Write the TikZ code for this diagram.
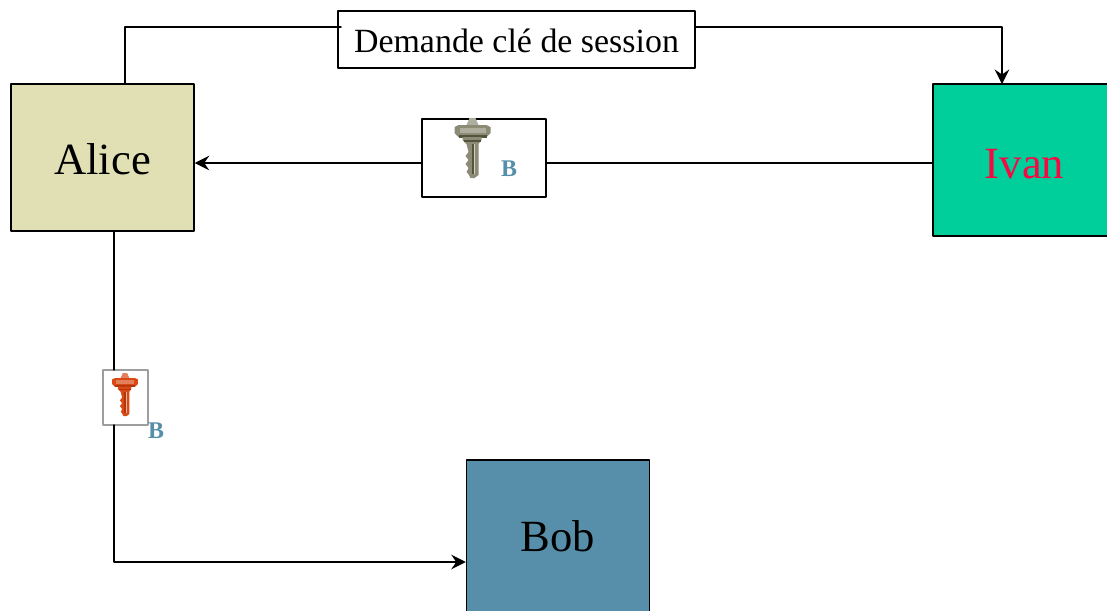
\documentclass[tikz,border=0pt]{standalone}
\usepackage{fontspec}
\setmainfont{Liberation Serif}
\usetikzlibrary{arrows.meta}
\definecolor{aliceFill}{RGB}{224,224,180}
\definecolor{ivanFill}{RGB}{0,207,155}
\definecolor{bobFill}{RGB}{87,143,170}
\definecolor{ivanText}{RGB}{248,8,66}
\definecolor{keyGrey}{RGB}{140,140,118}
\definecolor{keyDark}{RGB}{84,84,60}
\definecolor{keyOrange}{RGB}{218,72,20}
\definecolor{keyRust}{RGB}{176,52,12}
\tikzset{
	person/.style={draw=black, line width=.85pt, inner sep=0pt, text height=19.6pt, text depth=0pt, font=\fontsize{25.4}{28}\selectfont},
	msgbox/.style={draw=black, fill=white, line width=.85pt, inner sep=0pt},
	keylabel/.style={inner sep=0pt, text=bobFill, font=\fontsize{13.6}{15}\selectfont\bfseries},
}
% key drawn from the middle of its top edge
\newcommand{\drawkey}[5]{%
	\begin{scope}[shift={(#1,#2)}, scale=#3]
	\fill[#4!70!white] (-6,7)--(-3,0)--(3,0)--(6,7)--cycle;
	\fill[#4] (-18,9)--(-14,7)--(14,7)--(18,9)--(18,15)--(14,19)--(-14,19)--(-18,15)--cycle;
	\fill[#4!70!white] (-13,10) rectangle (13,15);
	\fill[#5] (-14,17) rectangle (14,19.5);
	\fill[#4] (-10,19)--(9,19)--(9,22)--(6,26)--(6,57)--(2,60)--(-2,60)--(-4,56)--(-6,54)--(-4,50)--(-7,46)--(-4,42)--(-7,38)--(-4,34)--(-6,26)--(-10,22)--cycle;
	\fill[#5] (-9,22) rectangle (8,24);
	\fill[#4!40!white] (1,26) rectangle (2.5,56);
	\fill[#5] (-1,26) rectangle (1,56);
	\end{scope}}
\begin{document}
\begin{tikzpicture}[x=.02cm, y=-.02cm, >={Stealth[length=.29cm, width=.29cm, inset=.1cm]}, line width=.8pt, line join=round, line cap=round]
	\useasboundingbox (0,0) rectangle (1107,610);
	\clip (0,0) rectangle (1107,610);
	\node[person, fill=aliceFill, minimum width=3.66cm, minimum height=2.94cm] (alice) at (102.5,157.5) {Alice};
	\node[person, fill=ivanFill, text=ivanText, text height=20.7pt, minimum width=3.66cm, minimum height=3.04cm] (ivan) at (1024.5,160) {Ivan};
	\node[person, fill=bobFill, text height=17.3pt, minimum width=3.66cm, minimum height=3.04cm] (bob) at (558,536) {Bob};
	\node[msgbox, text height=15pt, text depth=0pt, minimum width=7.14cm, minimum height=1.14cm, font=\fontsize{19.3}{22}\selectfont] (demande) at (516.5,39.5) {Demande clé de session};
	\node[msgbox, minimum width=2.48cm, minimum height=1.56cm] (keyivan) at (484,158) {};
	\node[msgbox, draw=black!38, line width=1.1pt, minimum width=.9cm, minimum height=1.1cm] (keyalice) at (125.5,397.5) {};
	\node[keylabel] (labelivan) at (509,169) {B};
	\node[keylabel] (labelalice) at (156,431) {B};
	\drawkey{472.5}{118}{1}{keyGrey}{keyDark}
	\drawkey{125}{373}{.72}{keyOrange}{keyRust}
	% free ends of the connectors
	\coordinate (alicetop) at (125,84);
	\coordinate (aliceleave) at (114,231);
	\coordinate (corner) at (114,562);
	\coordinate (ivantop) at (1002,84);
	\draw (alicetop)--(125,27)--(341,27);
	\draw[->] (demande.east |- 0,27)--(1002,27)--(ivantop);
	\draw[->] (keyivan.west |- 0,163)--(alice.east |- 0,163);
	\draw (ivan.west |- 0,163)--(keyivan.east |- 0,163);
	\draw (aliceleave)--(114,370);
	\draw[->] (114,425)--(corner)--(bob.west |- corner);
\end{tikzpicture}
\end{document}
